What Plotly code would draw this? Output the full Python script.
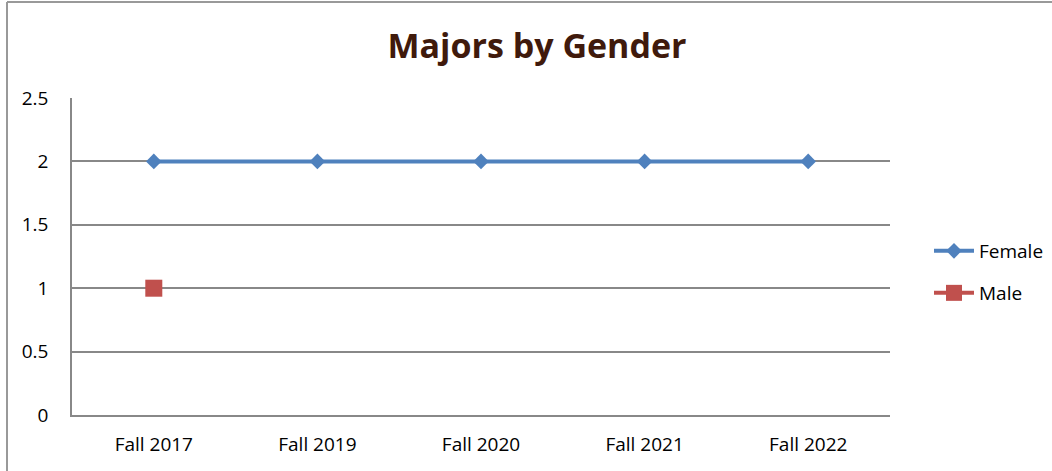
import plotly.graph_objects as go

categories = ["Fall 2017", "Fall 2019", "Fall 2020", "Fall 2021", "Fall 2022"]
female = [2, 2, 2, 2, 2]
male = [1, None, None, None, None]
y_ticks = [0, 0.5, 1, 1.5, 2, 2.5]
y_tick_labels = ["0", "0.5", "1", "1.5", "2", "2.5"]

W, H = 1052, 471
L, R, T, B = 72, 162, 98, 56
pw, ph = W - L - R, H - T - B

FONT = "Open Sans, Liberation Sans, sans-serif"

fig = go.Figure()
fig.add_trace(go.Scatter(
    x=categories, y=female, name="Female", mode="lines+markers",
    line=dict(color="#4F81BD", width=4),
    marker=dict(symbol="diamond", size=12, color="#4F81BD"),
    legend="legend",
))
fig.add_trace(go.Scatter(
    x=categories, y=male, name="Male", mode="lines+markers",
    line=dict(color="#C0504D", width=4),
    marker=dict(symbol="square", size=17, color="#C0504D"),
    legend="legend2",
))

def px_x(p):
    return (p - L) / pw

def px_y(p):
    return (H - B - p) / ph

fig.update_layout(
    width=W, height=H,
    margin=dict(l=L, r=R, t=T, b=B, autoexpand=False),
    paper_bgcolor="white", plot_bgcolor="white",
    font=dict(family=FONT, size=19, color="#000000"),
    title=dict(text="<b>Majors by Gender</b>", x=537 / W, xanchor="center",
               y=1 - 46 / H, yanchor="middle",
               font=dict(family=FONT, size=34, color="#401A0C")),
    xaxis=dict(type="category", range=[-0.5, 4.5], showgrid=False,
               showline=True, linecolor="#888888", linewidth=1.5,
               ticks="", ticklabelstandoff=11, tickfont=dict(size=19),
               fixedrange=True),
    yaxis=dict(range=[0, 2.5], tickvals=y_ticks, ticktext=y_tick_labels,
               showgrid=True, gridcolor="#888888", gridwidth=1.5,
               showline=True, linecolor="#888888", linewidth=1.5,
               zeroline=False, ticks="", ticklabelstandoff=18,
               tickfont=dict(size=19), fixedrange=True),
    legend=dict(x=px_x(929), y=px_y(251), xanchor="left", yanchor="middle",
                itemwidth=40, font=dict(size=19), bgcolor="rgba(0,0,0,0)"),
    legend2=dict(x=px_x(929), y=px_y(293), xanchor="left", yanchor="middle",
                 itemwidth=40, font=dict(size=19), bgcolor="rgba(0,0,0,0)"),
    showlegend=True,
)

# Chart frame (left and top edges visible in the reference)
fig.add_shape(type="line", xref="paper", yref="paper",
              x0=px_x(7), x1=px_x(7), y0=px_y(480), y1=px_y(2),
              line=dict(color="#999999", width=2))
fig.add_shape(type="line", xref="paper", yref="paper",
              x0=px_x(7), x1=px_x(1060), y0=px_y(2), y1=px_y(2),
              line=dict(color="#999999", width=2))

fig.write_html("out.html", config={"displayModeBar": False},
               post_script="document.body.style.margin='0';document.body.style.overflow='hidden';")
